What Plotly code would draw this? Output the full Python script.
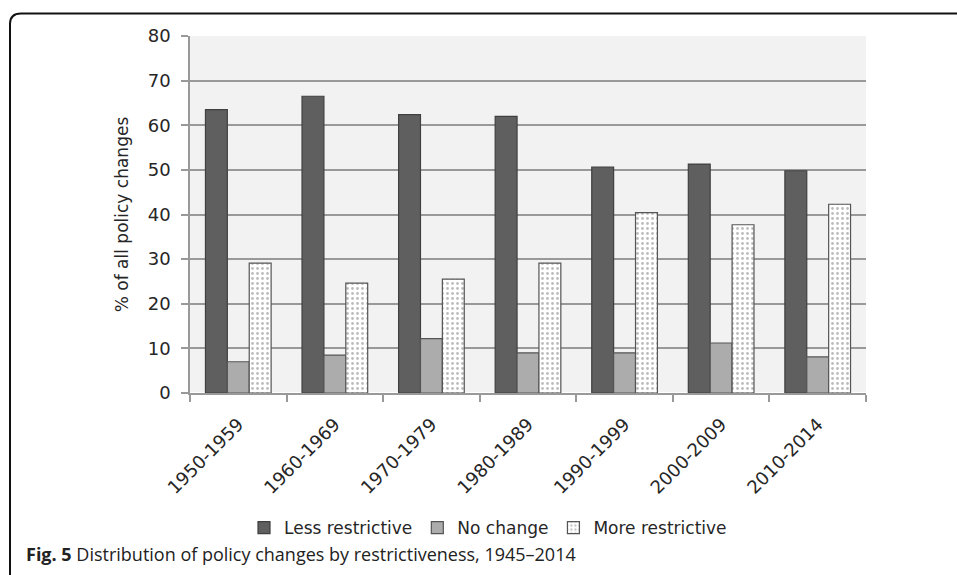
import plotly.graph_objects as go

categories = ["1950-1959", "1960-1969", "1970-1979", "1980-1989", "1990-1999", "2000-2009", "2010-2014"]
less_restrictive = [63.5, 66.5, 62.4, 62.0, 50.6, 51.3, 49.8]
no_change = [7.0, 8.5, 12.2, 9.0, 9.0, 11.2, 8.1]
more_restrictive = [29.1, 24.6, 25.5, 29.1, 40.4, 37.7, 42.3]
y_ticks = [0, 10, 20, 30, 40, 50, 60, 70, 80]

W, H = 957, 575
L, R, T, B = 190, 91, 36, 182
pw, ph = W - L - R, H - T - B

def px(x):
    return (x - L) / pw

def py(y):
    return (H - B - y) / ph

chart_font = "DejaVu Sans, Verdana, sans-serif"
caption_font = "Open Sans, Noto Sans, sans-serif"
text_color = "#262626"

fig = go.Figure()
fig.add_trace(go.Bar(
    x=categories, y=less_restrictive, name="Less restrictive",
    marker=dict(color="#5f5f5f", line=dict(color="#404040", width=1.2)),
))
fig.add_trace(go.Bar(
    x=categories, y=no_change, name="No change",
    marker=dict(color="#acacac", line=dict(color="#555555", width=1.2)),
))
fig.add_trace(go.Bar(
    x=categories, y=more_restrictive, name="More restrictive",
    marker=dict(color="white", line=dict(color="#555555", width=1.2),
                pattern=dict(shape=".", fgcolor="#7a7a7a", bgcolor="white", size=5, solidity=0.25)),
))

path = (f"M {px(10)},{py(576)} L {px(10)},{py(24)} "
        f"Q {px(10)},{py(13.5)} {px(21)},{py(13.5)} L {px(958)},{py(13.5)}")

fig.update_layout(
    width=W, height=H,
    margin=dict(l=L, r=R, t=T, b=B),
    paper_bgcolor="white",
    plot_bgcolor="#f2f2f2",
    barmode="group",
    bargap=0.32,
    bargroupgap=0,
    font=dict(family=chart_font, color=text_color),
    hovermode=False,
    showlegend=True,
    legend=dict(
        orientation="h", xref="container", x=488 / W, xanchor="center",
        yref="container", y=(H - 528) / H, yanchor="middle",
        font=dict(size=17, color=text_color),
        itemwidth=30, traceorder="normal",
    ),
    xaxis=dict(
        type="category",
        tickangle=-45,
        tickfont=dict(size=18, color=text_color),
        ticklabelstandoff=12,
        ticks="outside", tickson="boundaries", ticklen=7, tickcolor="#999999", tickwidth=1.5,
        showline=True, linecolor="#999999", linewidth=1.5,
        showgrid=False,
    ),
    yaxis=dict(
        range=[0, 80],
        tickvals=y_ticks,
        tickfont=dict(size=18, color=text_color),
        ticklabelstandoff=7,
        ticks="outside", ticklen=7, tickcolor="#999999", tickwidth=1.5,
        showline=True, linecolor="#999999", linewidth=1.5,
        showgrid=True, gridcolor="#999999", gridwidth=1.5,
        title=dict(text="% of all policy changes", font=dict(size=17, color=text_color), standoff=15),
    ),
    shapes=[
        dict(type="path", xref="paper", yref="paper", path=path,
             line=dict(color="#111111", width=2)),
    ],
    annotations=[
        dict(xref="paper", yref="paper", x=px(24), y=py(554), xanchor="left", yanchor="middle",
             showarrow=False, align="left",
             text="<b>Fig. 5</b> Distribution of policy changes by restrictiveness, 1945\u20132014",
             font=dict(family=caption_font, size=18, color="#222222")),
    ],
)

fig.write_html("out.html", config={"displayModeBar": False},
               post_script="document.body.style.margin='0';document.body.style.padding='0';")
